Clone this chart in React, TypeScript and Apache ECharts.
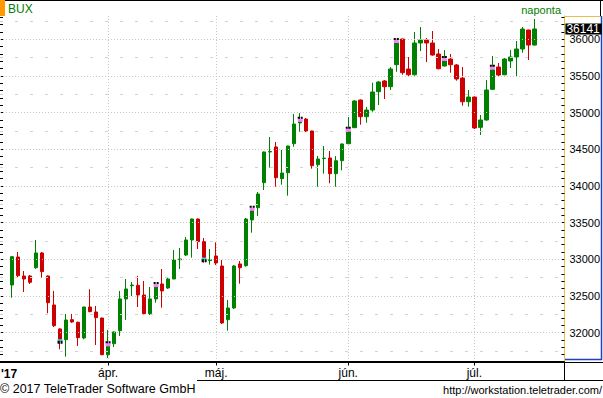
import React, { useEffect, useRef } from 'react';
import * as echarts from 'echarts';

// ---------- data ----------
const marchDays = [9, 10, 13, 14, 16, 17, 20, 21, 22, 23, 24, 27, 28, 29, 30, 31];
const aprilDays = [3, 4, 5, 6, 7, 10, 11, 12, 13, 18, 19, 20, 21, 24, 25, 26, 27, 28];
const mayDays = [2, 3, 4, 5, 8, 9, 10, 11, 12, 15, 16, 17, 18, 19, 22, 23, 24, 25, 26, 29, 30, 31];
const juneDays = [1, 2, 6, 7, 8, 9, 12, 13, 14, 15, 16, 19, 20, 21, 22, 23, 26, 27, 28, 29, 30];
const julyDays = [3, 4, 5, 6, 7, 10, 11, 12, 13, 14, 17];

const pad2 = (n: number) => (n < 10 ? '0' + n : '' + n);
const dates: string[] = [
  ...marchDays.map((d) => '2017-03-' + pad2(d)),
  ...aprilDays.map((d) => '2017-04-' + pad2(d)),
  ...mayDays.map((d) => '2017-05-' + pad2(d)),
  ...juneDays.map((d) => '2017-06-' + pad2(d)),
  ...julyDays.map((d) => '2017-07-' + pad2(d)),
];

const opens = [
  32650, 33032, 32773, 32773, 32886, 33087, 32773, 32378, 32051, 31905,
  32177, 32142, 31928, 32350, 32282, 32200, 31700, 31850, 32027, 32460,
  32640, 32646, 32514, 32259, 32460, 32664, 32609, 32732, 32995, 33059,
  33264, 33550, 33241, 32985, 33046, 32909, 32177, 32337, 32937, 32913,
  33537, 33704, 34045, 34464, 34532, 34100, 34181, 34577, 34860, 34913,
  34750, 34290, 34375, 34382, 34168, 34345, 34577, 34795, 35172, 34945,
  35036, 35286, 35432, 35354, 35654, 36004, 35595, 35517, 35950, 35990,
  35950, 35800, 35636, 35731, 35650, 35472, 35149, 35213, 34800, 34900,
  35318, 35622, 35517, 35704, 35759, 35868, 36127, 35922,
];
const closes = [
  33036, 32777, 32732, 32687, 33087, 32832, 32409, 32095, 31910, 32173,
  32146, 31932, 32350, 32287, 32205, 31700, 31815, 32010, 32460, 32596,
  32650, 32514, 32259, 32460, 32623, 32569, 32732, 32991, 33005, 33264,
  33550, 33241, 33023, 32995, 32950, 32132, 32337, 32909, 32886, 33550,
  33663, 33891, 34464, 34470, 34113, 34177, 34545, 34845, 34875, 34750,
  34277, 34368, 34380, 34168, 34345, 34573, 34740, 35159, 34945, 35036,
  35282, 35418, 35354, 35595, 35950, 35545, 35517, 35950, 35990, 35950,
  35786, 35599, 35704, 35654, 35459, 35149, 35213, 34791, 34900, 35309,
  35586, 35513, 35731, 35759, 35868, 36140, 35922, 36141,
];
const lows = [
  32477, 32750, 32555, 32664, 32870, 32750, 32265, 32078, 31774, 31673,
  32133, 31819, 31910, 32280, 31832, 31692, 31655, 31805, 31955, 32173,
  32500, 32350, 32250, 32241, 32409, 32341, 32596, 32732, 32868, 33046,
  33023, 33141, 32955, 32927, 32923, 32118, 32027, 32323, 32668, 32900,
  33363, 33591, 33945, 34250, 33990, 34018, 33868, 34536, 34740, 34736,
  34236, 33990, 34168, 34037, 33990, 34214, 34570, 34790, 34836, 34863,
  35013, 35104, 35186, 35309, 35558, 35517, 35490, 35504, 35840, 35690,
  35776, 35591, 35630, 35545, 35436, 35095, 35081, 34777, 34695, 34890,
  35309, 35500, 35510, 35609, 35490, 35817, 35718, 35915,
];
const highs = [
  33040, 33100, 32841, 32787, 33264, 33100, 32780, 32569, 32060, 32255,
  32255, 32150, 32355, 32592, 32364, 32205, 32037, 32015, 32569, 32732,
  32691, 32773, 32705, 32623, 32630, 32868, 32760, 33128, 33155, 33305,
  33555, 33555, 33291, 33141, 33232, 32991, 32446, 32923, 32977, 33564,
  33670, 33918, 34470, 34668, 34600, 34491, 34550, 34982, 34995, 34927,
  34755, 34409, 34545, 34477, 34409, 34580, 34941, 35172, 35180, 35077,
  35408, 35432, 35445, 35622, 35960, 36010, 35759, 36100, 36168, 36018,
  36113, 35868, 35854, 35800, 35663, 35622, 35309, 35220, 34968, 35445,
  35772, 35677, 35745, 35854, 35977, 36168, 36130, 36277,
];

// bars carrying the small coloured markers
const markerBars = [8, 16, 24, 32, 40, 48, 56, 64, 72, 80];

const yLabelValues = [32000, 32500, 33000, 33500, 34000, 34500, 35000, 35500, 36000];
const majorGrid = [32000, 32500, 33000, 33500, 34000, 34500, 35000, 35500, 36000];
const minorGrid = [31750, 32250, 32750, 33250, 33750, 34250, 34750, 35250, 35750, 36250];
const monthLabels: Record<string, string> = { '04': 'ápr.', '05': 'máj.', '06': 'jún.', '07': 'júl.' };

// ---------- layout ----------
const Y_MIN = 31607;
const Y_MAX = 36318;
const PAD_LEFT = 2;
const PAD_RIGHT = 5;
const FONT = '"Liberation Sans", Arial, sans-serif';
const GREEN = '#008000';
const RED = '#cc0000';

const ticks100: number[] = [];
for (let v = 31700; v <= 36300; v += 100) ticks100.push(v);

const categories: string[] = [
  ...Array.from({ length: PAD_LEFT }, (_, i) => 'padL' + i),
  ...dates,
  ...Array.from({ length: PAD_RIGHT }, (_, i) => 'padR' + i),
];
const monthStarts = new Set(
  dates.filter((d, i) => i > 0 && d.slice(5, 7) !== dates[i - 1].slice(5, 7))
);
const isMonthStart = (_idx: number, val: string) => monthStarts.has(val);

export default function App() {
  const ref = useRef<HTMLDivElement>(null);

  useEffect(() => {
    const chart = echarts.init(ref.current!, null, { renderer: 'svg' });

    const candleData = dates.map((_, k) => [k + PAD_LEFT, opens[k], closes[k], lows[k], highs[k]]);
    const upMarks = markerBars.filter((k) => closes[k] >= opens[k]).map((k) => [k + PAD_LEFT, closes[k]]);
    const downMarks = markerBars.filter((k) => closes[k] < opens[k]).map((k) => [k + PAD_LEFT, closes[k]]);
    const lastClose = closes[closes.length - 1];
    const blackPair = 'path://M0,0h2v2h-2zM3,0h2v2h-2z';

    const markerSeries = (data: number[][], symbol: string, color: string, size: number[], offset: number[]) => ({
      type: 'scatter',
      data,
      symbol,
      symbolSize: size,
      symbolOffset: offset,
      itemStyle: { color, opacity: 1 },
      silent: true,
      z: 5,
      emphasis: { disabled: true },
    });

    const option: any = {
      animation: false,
      backgroundColor: '#ffffff',
      grid: { left: 0, right: 38, top: 16, bottom: 36.5, containLabel: false },
      xAxis: {
        type: 'category',
        data: categories,
        boundaryGap: false,
        axisLine: { show: true, onZero: false, lineStyle: { color: '#000', width: 1 } },
        axisTick: { show: true, interval: isMonthStart, length: 4, lineStyle: { color: '#000' } },
        axisLabel: {
          interval: isMonthStart,
          formatter: (v: string) => monthLabels[v.slice(5, 7)] || '',
          color: '#000',
          fontSize: 12,
          fontFamily: FONT,
          margin: 5,
        },
        splitLine: { show: true, interval: isMonthStart, lineStyle: { color: '#c8c8c8', type: [1, 2], width: 1 } },
      },
      yAxis: [
        {
          type: 'value',
          position: 'right',
          min: Y_MIN,
          max: Y_MAX,
          axisLine: { show: true, lineStyle: { color: '#e8c048', width: 1 } },
          axisTick: { show: true, inside: true, length: 3, customValues: ticks100, lineStyle: { color: '#000' } },
          axisLabel: {
            customValues: yLabelValues,
            formatter: (v: number) => String(v),
            color: '#000',
            fontSize: 11,
            fontFamily: FONT,
            margin: 5,
          },
          splitLine: { show: false },
        },
        {
          type: 'value',
          position: 'left',
          min: Y_MIN,
          max: Y_MAX,
          axisLine: { show: false },
          axisTick: { show: true, inside: true, length: 3, customValues: ticks100, lineStyle: { color: '#000' } },
          axisLabel: { show: false },
          splitLine: { show: false },
        },
      ],
      series: [
        {
          type: 'line',
          data: [],
          z: 1,
          silent: true,
          markLine: {
            silent: true,
            symbol: ['none', 'none'],
            label: { show: false },
            emphasis: { disabled: true },
            data: [
              ...majorGrid.map((v) => ({ yAxis: v, lineStyle: { color: '#c8c8c8', type: [1, 2], width: 1 } })),
              ...minorGrid.map((v) => ({ yAxis: v, lineStyle: { color: '#d2d2d2', type: [3, 12], width: 1 } })),
            ],
          },
        },
        {
          type: 'candlestick',
          z: 3,
          clip: false,
          data: candleData,
          encode: { x: 0, y: [1, 2, 3, 4] },
          barWidth: 4,
          itemStyle: {
            color: GREEN,
            color0: RED,
            borderColor: GREEN,
            borderColor0: RED,
            borderWidth: 1,
          },
          emphasis: { disabled: true },
          markLine: {
            silent: true,
            symbol: ['none', 'none'],
            emphasis: { disabled: true },
            data: [
              {
                yAxis: lastClose,
                lineStyle: { color: 'rgba(0,0,0,0)', width: 0, opacity: 1 },
                label: {
                  show: true,
                  position: 'end',
                  distance: 1,
                  formatter: String(lastClose),
                  color: '#ffffff',
                  opacity: 1,
                  backgroundColor: '#000000',
                  fontSize: 12,
                  fontFamily: FONT,
                  lineHeight: 11,
                  padding: [0, 2, 0, 1],
                },
              },
            ],
          },
        },
        markerSeries(upMarks, 'rect', '#ff80ff', [5, 3], [0, -1.5]),
        markerSeries(upMarks, blackPair, '#000000', [5, 2], [0, -4]),
        markerSeries(downMarks, 'rect', '#00e8ff', [5, 1.5], [0, 0.75]),
        markerSeries(downMarks, blackPair, '#000000', [5, 3], [0, 3]),
      ],
      graphic: [
        { type: 'line', shape: { x1: 0, y1: 0.5, x2: 603, y2: 0.5 }, style: { stroke: '#000', lineWidth: 1 }, silent: true },
        { type: 'rect', shape: { x: 0, y: 0, width: 5, height: 16 }, style: { fill: '#ff9900' }, silent: true },
        {
          type: 'text', x: 8, y: 9, silent: true,
          style: { text: 'BUX', fill: GREEN, fontSize: 12, fontFamily: FONT, align: 'left', verticalAlign: 'middle' },
        },
        {
          type: 'text', x: 561, y: 9.5, silent: true,
          style: { text: 'naponta', fill: GREEN, fontSize: 11, fontFamily: FONT, align: 'right', verticalAlign: 'middle' },
        },
        { type: 'line', shape: { x1: 600.5, y1: 0, x2: 600.5, y2: 16 }, style: { stroke: '#000', lineWidth: 1 }, silent: true },
        { type: 'line', shape: { x1: 564, y1: 16.5, x2: 602, y2: 16.5 }, style: { stroke: '#e8c048', lineWidth: 1 }, silent: true },
        { type: 'line', shape: { x1: 601.5, y1: 16, x2: 601.5, y2: 360 }, style: { stroke: '#2040c0', lineWidth: 1.5 }, silent: true },
        { type: 'line', shape: { x1: 565, y1: 359.5, x2: 602, y2: 359.5 }, style: { stroke: '#2040c0', lineWidth: 1.5 }, silent: true },
        { type: 'line', shape: { x1: 0, y1: 362.5, x2: 603, y2: 362.5 }, style: { stroke: '#000', lineWidth: 1 }, silent: true },
        { type: 'line', shape: { x1: 564.5, y1: 362, x2: 564.5, y2: 381 }, style: { stroke: '#000', lineWidth: 1 }, silent: true },
        { type: 'line', shape: { x1: 197, y1: 380.5, x2: 603, y2: 380.5 }, style: { stroke: '#000', lineWidth: 1 }, silent: true },
        {
          type: 'text', x: 1, y: 373.5, silent: true,
          style: { text: "'17", fill: '#000', fontSize: 12, fontWeight: 'bold', fontFamily: FONT, align: 'left', verticalAlign: 'middle' },
        },
        {
          type: 'text', x: 0, y: 389, silent: true,
          style: { text: '© 2017 TeleTrader Software GmbH', fill: '#000', fontSize: 12.5, fontFamily: FONT, align: 'left', verticalAlign: 'middle' },
        },
        {
          type: 'text', x: 602, y: 389.5, silent: true,
          style: { text: 'http://workstation.teletrader.com/', fill: '#000', fontSize: 11, fontFamily: FONT, align: 'right', verticalAlign: 'middle' },
        },
      ],
    };

    chart.setOption(option);
    return () => chart.dispose();
  }, []);

  return (
    <div
      ref={ref}
      style={{ position: 'fixed', left: 0, top: 0, width: 603, height: 398, background: '#fff' }}
    />
  );
}
